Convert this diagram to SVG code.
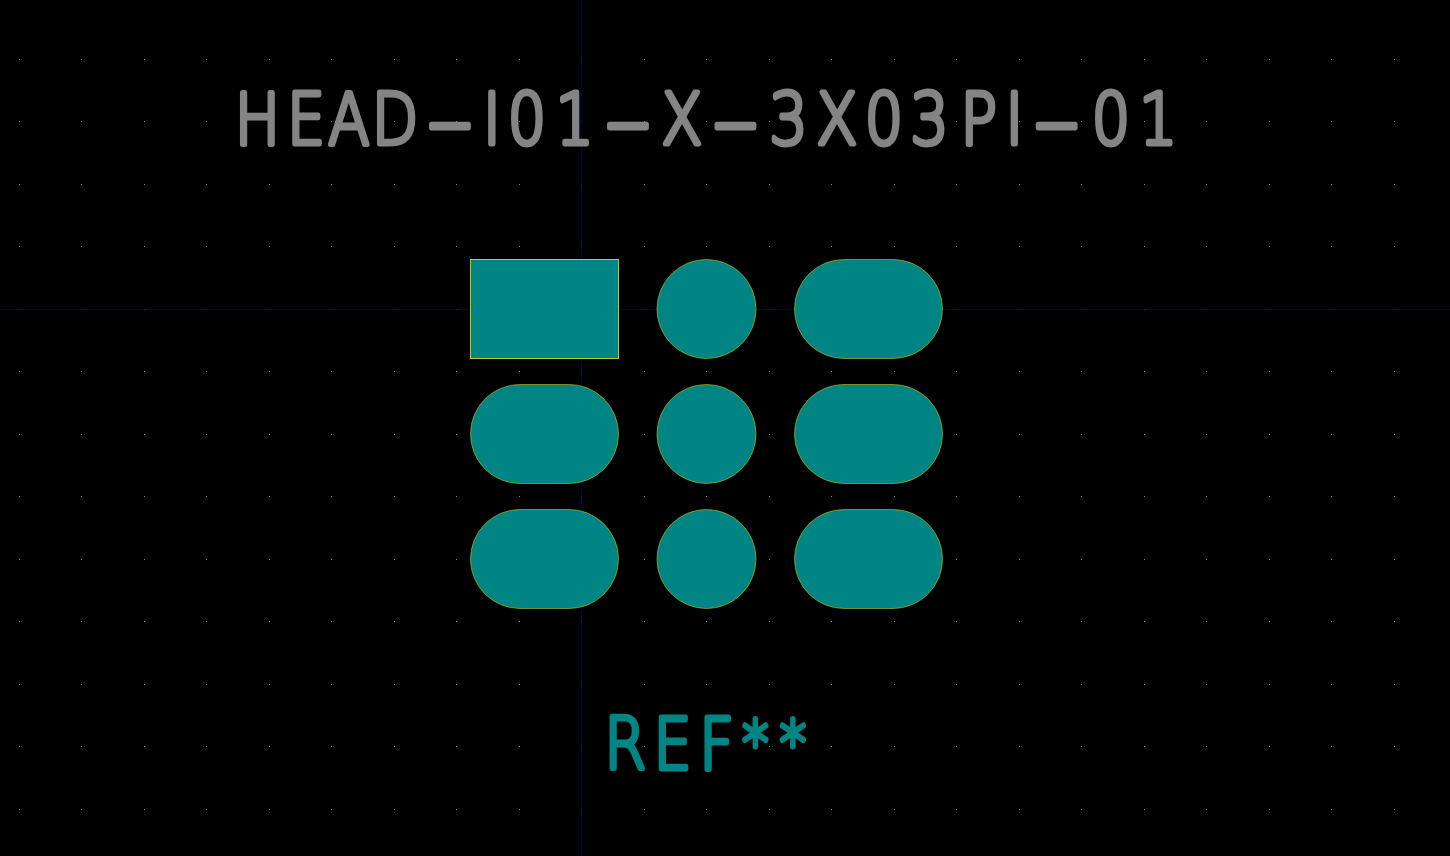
<svg xmlns="http://www.w3.org/2000/svg" width="1450" height="856" viewBox="0 0 1450 856">
<style>
.pad{fill:#008484;stroke:#c8c800;stroke-width:.6}
.sq{stroke-width:1;shape-rendering:crispEdges}
.axis{stroke:#000084;stroke-width:1;shape-rendering:crispEdges;opacity:.75}
.t{font-family:"DejaVu Sans",sans-serif;font-weight:200;font-size:71px;text-anchor:middle;stroke-width:5;stroke-linejoin:round;stroke-linecap:round}
.d{font-family:"Inter",sans-serif;font-weight:100;font-size:163px}
.s{font-size:62px}
.gray{fill:#848484;stroke:#848484}
.teal{fill:#008484;stroke:#008484}
</style>
<defs>
<pattern id="grid" patternUnits="userSpaceOnUse" x="19" y="59" width="125" height="125">
<rect x="0" y="0" width="1" height="1" fill="#848484"/><rect x="62" y="0" width="1" height="1" fill="#848484"/>
<rect x="0" y="62" width="1" height="1" fill="#848484"/><rect x="62" y="62" width="1" height="1" fill="#848484"/>
</pattern>
</defs>
<rect width="1450" height="856" fill="#000"/>
<rect width="1450" height="856" fill="url(#grid)"/>
<g id="axes">
<line class="axis" x1="581.5" y1="0" x2="581.5" y2="856"/>
<line class="axis" x1="0" y1="309.5" x2="1450" y2="309.5"/>
</g>
<g id="pad-1"><rect class="pad sq" x="470.5" y="259.5" width="148" height="99"/></g>
<g id="pad-2"><circle class="pad" cx="706.5" cy="309" r="49.5"/></g>
<g id="pad-3"><rect class="pad" x="794.5" y="259.5" width="148" height="99" rx="49.5"/></g>
<g id="pad-4"><rect class="pad" x="470.5" y="384.5" width="148" height="99" rx="49.5"/></g>
<g id="pad-5"><circle class="pad" cx="706.5" cy="434" r="49.5"/></g>
<g id="pad-6"><rect class="pad" x="794.5" y="384.5" width="148" height="99" rx="49.5"/></g>
<g id="pad-7"><rect class="pad" x="470.5" y="509.5" width="148" height="99" rx="49.5"/></g>
<g id="pad-8"><circle class="pad" cx="706.5" cy="559" r="49.5"/></g>
<g id="pad-9"><rect class="pad" x="794.5" y="509.5" width="148" height="99" rx="49.5"/></g>
<g id="value-label"><text class="t gray" transform="scale(.85 1)" y="144.5"><tspan x="302.9">H</tspan><tspan x="360">E</tspan><tspan x="410.6">A</tspan><tspan x="464.7">D</tspan><tspan class="d" x="529.4" y="177">-</tspan><tspan x="578.8" y="144.5">I</tspan><tspan x="620">0</tspan><tspan x="676">1</tspan><tspan class="d" x="738.8" y="177">-</tspan><tspan x="802.4" y="144.5">X</tspan><tspan class="d" x="865.3" y="177">-</tspan><tspan x="927.6" y="144.5">3</tspan><tspan x="984.7">X</tspan><tspan x="1040">0</tspan><tspan x="1093.5">3</tspan><tspan x="1151.5">P</tspan><tspan x="1193.5">I</tspan><tspan class="d" x="1243" y="177">-</tspan><tspan x="1307" y="144.5">0</tspan><tspan x="1362.5">1</tspan></text></g>
<g id="ref-label"><text class="t teal" transform="scale(.85 1)" y="769.5"><tspan x="735.5">R</tspan><tspan x="791.2">E</tspan><tspan x="843.1">F</tspan><tspan class="s" x="888.8" y="765.5">*</tspan><tspan class="s" x="932.9">*</tspan></text></g>
</svg>
